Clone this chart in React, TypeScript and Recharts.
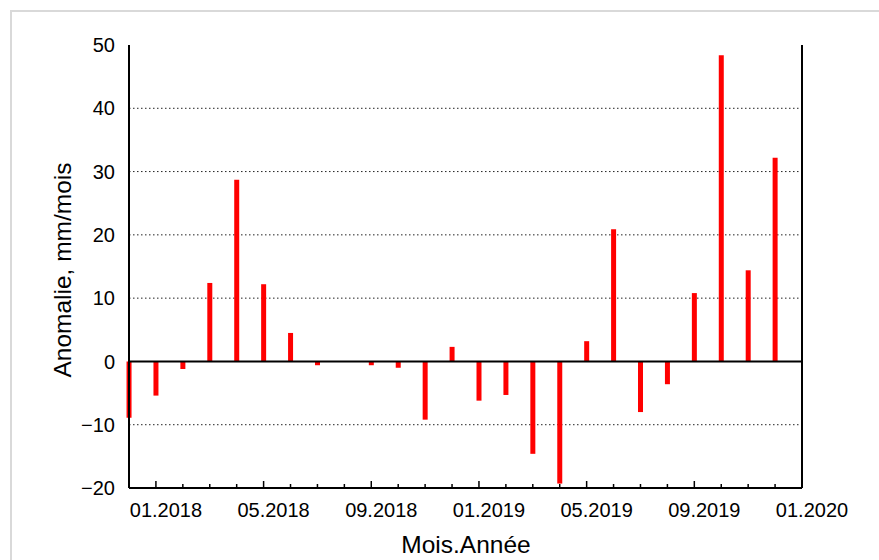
import {
  Bar,
  BarChart,
  CartesianGrid,
  ReferenceLine,
  XAxis,
  YAxis,
} from "recharts";

// months 12.2017 .. 12.2019, one bar per month
const MONTHS = [
  "12.2017",
  "01.2018",
  "02.2018",
  "03.2018",
  "04.2018",
  "05.2018",
  "06.2018",
  "07.2018",
  "08.2018",
  "09.2018",
  "10.2018",
  "11.2018",
  "12.2018",
  "01.2019",
  "02.2019",
  "03.2019",
  "04.2019",
  "05.2019",
  "06.2019",
  "07.2019",
  "08.2019",
  "09.2019",
  "10.2019",
  "11.2019",
  "12.2019",
];

const ANOMALY = [
  -8.9, -5.4, -1.2, 12.4, 28.7, 12.2, 4.5, -0.6, 0, -0.6, -1.0, -9.2, 2.3,
  -6.2, -5.3, -14.6, -19.3, 3.2, 20.9, -8.0, -3.6, 10.8, 48.4, 14.4, 32.2,
];

const X_LABELS = [
  "01.2018",
  "05.2018",
  "09.2018",
  "01.2019",
  "05.2019",
  "09.2019",
  "01.2020",
];

const Y_TICKS = [-20, -10, 0, 10, 20, 30, 40, 50];
const GRID_VALUES = [-10, 10, 20, 30, 40];

const FONT = '"Liberation Sans", Arial, sans-serif';

const chartData = MONTHS.map((m, i) => ({ idx: i, month: m, value: ANOMALY[i] }));
const xTicks = Array.from({ length: MONTHS.length }, (_, i) => i + 1);

const fmtY = (v: number) => (v < 0 ? `\u2212${Math.abs(v)}` : `${v}`);

function MonthTick({ x, y, payload }: any) {
  const i = payload.value as number;
  const major = (i - 1) % 4 === 0;
  const label = major ? X_LABELS[(i - 1) / 4] : null;
  return (
    <g>
      <line
        x1={x}
        x2={x}
        y1={y}
        y2={y - (major ? 7 : 4)}
        stroke="#000"
        strokeWidth={1.5}
      />
      {label && (
        <text
          x={x + 10}
          y={y + 29}
          textAnchor="middle"
          fontFamily={FONT}
          fontSize={20}
          fill="#000"
        >
          {label}
        </text>
      )}
    </g>
  );
}

export default function App() {
  return (
    <div
      style={{
        position: "absolute",
        left: 0,
        top: 0,
        width: 879,
        height: 560,
        overflow: "hidden",
        background: "#fff",
      }}
    >
      <div
        style={{
          position: "absolute",
          left: 10,
          top: 10,
          width: 900,
          height: 600,
          borderTop: "2px solid #d9d9d9",
          borderLeft: "2px solid #d9d9d9",
        }}
      />
      <div style={{ position: "absolute", left: 0, top: 0 }}>
        <BarChart
          width={879}
          height={560}
          data={chartData}
          margin={{ top: 45, right: 77, bottom: 0, left: 0 }}
        >
          <CartesianGrid
            vertical={false}
            horizontalValues={GRID_VALUES}
            stroke="#222"
            strokeDasharray="1.5 2.5"
          />
          <XAxis
            dataKey="idx"
            type="number"
            domain={[0, 25]}
            ticks={xTicks}
            interval={0}
            height={72}
            tickSize={0}
            tickMargin={0}
            tickLine={false}
            axisLine={{ stroke: "#000", strokeWidth: 2 }}
            tick={<MonthTick />}
            label={{
              content: () => (
                <text
                  x={466}
                  y={553}
                  textAnchor="middle"
                  fontFamily={FONT}
                  fontSize={24.5}
                  fill="#000"
                >
                  Mois.Année
                </text>
              ),
            }}
          />
          <XAxis
            xAxisId="top"
            dataKey="idx"
            type="number"
            domain={[0, 25]}
            orientation="top"
            height={0}
            tick={false}
            tickLine={false}
            axisLine={{ stroke: "#000", strokeWidth: 2 }}
          />
          <YAxis
            domain={[-20, 50]}
            ticks={Y_TICKS}
            interval={0}
            width={129}
            tickSize={0}
            tickMargin={14}
            tickLine={false}
            tickFormatter={fmtY}
            tick={{ fontFamily: FONT, fontSize: 20, fill: "#000" }}
            axisLine={{ stroke: "#000", strokeWidth: 2 }}
            label={{
              content: () => (
                <text
                  x={71}
                  y={270}
                  transform="rotate(-90 71 270)"
                  textAnchor="middle"
                  fontFamily={FONT}
                  fontSize={24.5}
                  fill="#000"
                >
                  Anomalie, mm/mois
                </text>
              ),
            }}
          />
          <YAxis
            yAxisId="right"
            orientation="right"
            domain={[-20, 50]}
            ticks={Y_TICKS.slice(1, -1)}
            interval={0}
            width={0}
            mirror
            tickSize={7}
            tickFormatter={() => ""}
            tickLine={{ stroke: "#000", strokeWidth: 1.5 }}
            axisLine={{ stroke: "#000", strokeWidth: 2 }}
          />
          <ReferenceLine x={25} stroke="#000" strokeWidth={2} />
          <ReferenceLine y={0} stroke="#000" strokeWidth={2} />
          <Bar
            dataKey="value"
            fill="#ff0000"
            barSize={5}
            isAnimationActive={false}
          />
        </BarChart>
      </div>
    </div>
  );
}
